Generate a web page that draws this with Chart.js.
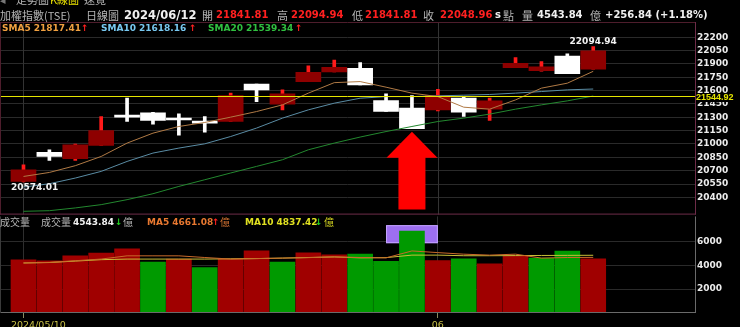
<!DOCTYPE html>
<html>
<head>
<meta charset="utf-8">
<script src="https://cdn.jsdelivr.net/npm/chart.js@4.4.1/dist/chart.umd.min.js"></script>
<style>
  html, body { margin: 0; padding: 0; background: #000; }
  body { width: 740px; height: 327px; position: relative; overflow: hidden; }
  #price { position: absolute; left: 0; top: 0; }
  #volume { position: absolute; left: 0; top: 209px; }
  .row { position: absolute; left: 0; width: 740px; height: 14px; white-space: nowrap; }
  .row span { position: absolute; top: 0; line-height: 14px; }
  .zh { font-family: "Noto Sans CJK TC", sans-serif; color: #b4b4b4; font-size: 11px; }
  .n { font-family: "DejaVu Sans", sans-serif; font-weight: bold; font-size: 10px; }
  .s { font-family: "DejaVu Sans", sans-serif; font-weight: bold; font-size: 9px; }
  .w { color: #f0f0f0; }
  .r { color: #ff2020; }
  .g { color: #20d020; }
</style>
</head>
<body>
<canvas id="price" width="740" height="222"></canvas>
<canvas id="volume" width="740" height="118"></canvas>

<div class="row" style="top:-8px">
  <span class="zh" style="left:0;color:#777">◂</span>
  <span class="zh" style="left:16px">走勢圖</span>
  <span class="zh" style="left:50px;color:#e8e000">K線圖</span>
  <span class="zh" style="left:84px">速覽</span>
</div>

<div class="row" style="top:8px">
  <span class="zh" style="left:0">加權指數(TSE)</span>
  <span class="zh" style="left:86px">日線圖</span>
  <span class="n w" style="left:124px;font-size:11.5px">2024/06/12</span>
  <span class="zh" style="left:202px">開</span><span class="n r" style="left:216px">21841.81</span>
  <span class="zh" style="left:277px">高</span><span class="n r" style="left:291px">22094.94</span>
  <span class="zh" style="left:352px">低</span><span class="n r" style="left:365px">21841.81</span>
  <span class="zh" style="left:423px">收</span><span class="n r" style="left:440px">22048.96</span>
  <span class="n w" style="left:495px">s</span><span class="zh" style="left:503px">點</span>
  <span class="zh" style="left:522px">量</span><span class="n w" style="left:537px">4543.84</span><span class="zh" style="left:590px">億</span>
  <span class="n w" style="left:605px">+256.84 (+1.18%)</span>
</div>

<div class="row" style="top:21px">
  <span class="s" style="left:2px;color:#f0a040">SMA5 21817.41</span><span class="s r" style="left:81px">↑</span>
  <span class="s" style="left:101px;color:#78c8f0">SMA10 21618.16</span><span class="s r" style="left:189px">↑</span>
  <span class="s" style="left:208px;color:#30c040">SMA20 21539.34</span><span class="s r" style="left:295px">↑</span>
</div>

<div class="row" style="top:215px">
  <span class="zh" style="left:0;font-size:10px">成交量</span>
  <span class="zh" style="left:41px;font-size:10px">成交量</span>
  <span class="s w" style="left:73px">4543.84</span><span class="s g" style="left:115px">↓</span><span class="zh" style="left:123px;font-size:10px">億</span>
  <span class="s" style="left:147px;color:#e87830">MA5 4661.08</span><span class="s r" style="left:212px">↑</span><span class="zh" style="left:220px;font-size:10px;color:#d07030">億</span>
  <span class="s" style="left:245px;color:#e0e020">MA10 4837.42</span><span class="s g" style="left:315px">↓</span><span class="zh" style="left:324px;font-size:10px;color:#d0d020">億</span>
</div>

<script>
// trading days shown
const dates = ['2024/05/10', '05/13', '05/14', '05/15', '05/16', '05/17', '05/20', '05/21',
    '05/22', '05/23', '05/24', '05/27', '05/28', '05/29', '05/30', '05/31',
    '06/03', '06/04', '06/05', '06/06', '06/07', '06/11', '06/12'];

// daily candles
const openPrices = [20580, 20905, 20834, 20983, 21325, 21350, 21283, 21249, 21253, 21673, 21448, 21702,
    21811, 21852, 21489, 21403, 21384, 21515, 21392, 21859, 21825, 21990, 21841.81];
const highPrices = [20767, 20935, 20999, 21309, 21515, 21355, 21339, 21309, 21572, 21673, 21609, 21878,
    21945, 21915, 21564, 21545, 21616, 21533, 21515, 21971, 21926, 22013, 22094.94];
const lowPrices = [20574.01, 20815, 20815, 20983, 21253, 21224, 21100, 21134, 21253, 21477, 21384, 21702,
    21811, 21665, 21365, 21171, 21373, 21309, 21264, 21859, 21820, 21796, 21841.81];
const closePrices = [20710, 20860, 20991, 21152, 21302, 21264, 21270, 21235, 21545, 21609, 21564, 21807,
    21863, 21665, 21365, 21171, 21545, 21358, 21485, 21908, 21867, 21792.12, 22048.96];

// moving averages
const sma5 = [20635, 20680, 20756, 20860, 21010, 21122, 21197, 21242, 21302, 21365, 21440, 21572,
    21690, 21702, 21639, 21572, 21533, 21414, 21392, 21496, 21628, 21684, 21817.41];
const sma10 = [20515, 20553, 20617, 20692, 20804, 20898, 20954, 21002, 21084, 21179, 21291, 21384,
    21459, 21515, 21533, 21533, 21541, 21549, 21557, 21572, 21590, 21609, 21618.16];
const sma20 = [20243, 20250, 20281, 20318, 20374, 20441, 20523, 20598, 20674, 20748, 20823, 20935,
    21010, 21078, 21140, 21197, 21253, 21291, 21336, 21392, 21440, 21485, 21539.34];

// volume (億)
const volumes = [4460, 4378, 4791, 5014, 5369, 4270, 4518, 3800, 4518, 5204, 4270, 5039,
    4873, 4931, 4320, 6856, 4403, 4543, 4130, 4791, 4601, 5179, 4543.84];
const volMa5 = [4200, 4240, 4380, 4520, 4790, 4790, 4790, 4650, 4520, 4560, 4600, 4640,
    4700, 4650, 4620, 5200, 5060, 4930, 4850, 4930, 4600, 4650, 4661.08];
const volMa10 = [4190, 4230, 4350, 4470, 4518, 4518, 4518, 4518, 4540, 4560, 4600, 4650,
    4700, 4620, 4640, 4850, 4850, 4800, 4800, 4810, 4820, 4830, 4837.42];

// axis ticks
const priceTicks = [22200, 22050, 21900, 21750, 21600, 21450, 21300, 21150, 21000, 20850, 20700, 20550, 20400];
const volumeTicks = [2000, 4000, 6000];
const xTickIndexes = [0, 16];
const xTickLabels = ['2024/05/10', '06'];

const refPrice = 21544.92;   // yellow horizontal line
const markIndex = 15;        // day pointed at by the arrow / box

const RED_BODY = '#8e0000';
const RED_WICK = '#ff1a1a';
const VOL_RED = '#a00000';
const VOL_GREEN = '#009a00';

const idx = dates.map((d, i) => i);
const isUp = idx.map(i => closePrices[i] >= openPrices[i]);
const volUp = idx.map(i => i === 0 || closePrices[i] >= closePrices[i - 1]);

const xRange = { type: 'linear', min: -0.907, max: 25.93, offset: false };
const tickFont = { family: 'DejaVu Sans', size: 9, weight: 'bold' };

function line(data, color) {
    return {
        type: 'line',
        data: idx.map(i => ({ x: i, y: data[i] })),
        borderColor: color,
        borderWidth: 1,
        pointRadius: 0,
        tension: 0,
        order: 0,
    };
}

const priceDecor = {
    id: 'priceDecor',
    beforeDatasetsDraw(chart) {
        const { ctx, chartArea: a, scales: { x } } = chart;
        ctx.save();
        ctx.strokeStyle = '#333333';
        ctx.lineWidth = 1;
        xTickIndexes.forEach(i => {
            const px = Math.round(x.getPixelForValue(i)) + 0.5;
            ctx.beginPath();
            ctx.moveTo(px, a.top);
            ctx.lineTo(px, a.bottom);
            ctx.stroke();
        });
        ctx.restore();
    },
    afterDatasetsDraw(chart) {
        const { ctx, chartArea: a, scales: { x, y } } = chart;
        ctx.save();

        // reference line + label on the axis
        const ry = Math.round(y.getPixelForValue(refPrice)) + 0.5;
        ctx.strokeStyle = '#e6e600';
        ctx.lineWidth = 1;
        ctx.beginPath();
        ctx.moveTo(a.left, ry);
        ctx.lineTo(a.right, ry);
        ctx.stroke();
        ctx.fillStyle = '#000';
        ctx.fillRect(a.right + 1, ry - 3.5, 44, 9);
        ctx.font = 'bold 9px "Liberation Sans"';
        ctx.fillStyle = '#e6e600';
        ctx.textAlign = 'left';
        ctx.textBaseline = 'middle';
        ctx.fillText(refPrice.toFixed(2), a.right + 1, ry + 1);

        // highest / lowest labels
        ctx.font = 'bold 9px "DejaVu Sans"';
        const hi = highPrices.indexOf(Math.max(...highPrices));
        const lo = lowPrices.indexOf(Math.min(...lowPrices));
        ctx.fillStyle = '#f2f2f2';
        ctx.textAlign = 'center';
        ctx.textBaseline = 'bottom';
        ctx.fillText(highPrices[hi].toFixed(2), x.getPixelForValue(hi), y.getPixelForValue(highPrices[hi]) - 0.5);
        ctx.textAlign = 'left';
        ctx.textBaseline = 'top';
        ctx.fillText(lowPrices[lo].toFixed(2), x.getPixelForValue(lo) - 12.5, y.getPixelForValue(lowPrices[lo]) + 1);

        // red arrow under the marked day
        const ax = x.getPixelForValue(markIndex);
        const tip = y.getPixelForValue(lowPrices[markIndex]) + 3;
        const neck = tip + 26;
        const bottom = a.bottom - 5;
        ctx.fillStyle = '#ff0000';
        ctx.beginPath();
        ctx.moveTo(ax, tip);
        ctx.lineTo(ax + 25.5, neck);
        ctx.lineTo(ax + 13.5, neck);
        ctx.lineTo(ax + 13.5, bottom);
        ctx.lineTo(ax - 13.5, bottom);
        ctx.lineTo(ax - 13.5, neck);
        ctx.lineTo(ax - 25.5, neck);
        ctx.closePath();
        ctx.fill();

        // frame
        ctx.lineWidth = 1;
        ctx.strokeStyle = '#4e1d2c';
        ctx.beginPath();
        ctx.moveTo(0, a.top + 0.5);
        ctx.lineTo(a.right, a.top + 0.5);
        ctx.moveTo(0.5, a.top);
        ctx.lineTo(0.5, a.bottom);
        ctx.stroke();
        ctx.strokeStyle = '#6e2c48';
        ctx.beginPath();
        ctx.moveTo(a.right + 0.5, a.top);
        ctx.lineTo(a.right + 0.5, a.bottom);
        ctx.moveTo(0, a.bottom - 0.5);
        ctx.lineTo(a.right + 1, a.bottom - 0.5);
        ctx.stroke();
        ctx.restore();
    },
};

const volumeDecor = {
    id: 'volumeDecor',
    beforeDatasetsDraw(chart) {
        const { ctx, scales: { x, y } } = chart;
        const cx = x.getPixelForValue(markIndex);
        const half = (x.getPixelForValue(markIndex + 1) - x.getPixelForValue(markIndex - 1)) / 2;
        const top = y.getPixelForValue(volumes[markIndex]) - 6;
        ctx.save();
        ctx.fillStyle = '#9d6ff0';
        ctx.strokeStyle = '#c4a4ff';
        ctx.lineWidth = 1;
        ctx.fillRect(cx - half, top, half * 2, 18);
        ctx.strokeRect(cx - half + 0.5, top + 0.5, half * 2 - 1, 17);
        ctx.restore();
    },
    afterDraw(chart) {
        const { ctx, chartArea: a, scales: { x } } = chart;
        ctx.save();
        ctx.font = '9.5px "DejaVu Sans"';
        ctx.fillStyle = '#c8c048';
        ctx.textBaseline = 'top';
        ctx.textAlign = 'left';
        xTickIndexes.forEach((v, k) => {
            const text = xTickLabels[k];
            const px = x.getPixelForValue(v);
            const w = ctx.measureText(text).width;
            let left = px - w / 2;
            if (left < a.left) left = px - 12.5;
            ctx.fillText(text, left, a.bottom + 8);
        });
        ctx.strokeStyle = '#6a6a6a';
        ctx.lineWidth = 1;
        ctx.beginPath();
        ctx.moveTo(a.right + 0.5, a.top);
        ctx.lineTo(a.right + 0.5, a.bottom);
        ctx.moveTo(0, a.bottom - 0.5);
        ctx.lineTo(a.right + 1, a.bottom - 0.5);
        ctx.stroke();
        ctx.strokeStyle = '#3a3a3a';
        ctx.beginPath();
        ctx.moveTo(0.5, a.top);
        ctx.lineTo(0.5, a.bottom);
        ctx.stroke();
        ctx.restore();
    },
};

const common = {
    responsive: false,
    animation: false,
    events: [],
    plugins: { legend: { display: false }, tooltip: { enabled: false } },
};

new Chart(document.getElementById('price'), {
    data: {
        datasets: [
            line(sma5, '#b07a45'),
            line(sma10, '#5a8ca4'),
            line(sma20, '#23882f'),
            {
                type: 'bar',
                data: idx.map(i => ({ x: i, y: [openPrices[i], closePrices[i]] })),
                backgroundColor: idx.map(i => isUp[i] ? RED_BODY : '#ffffff'),
                barThickness: 25,
                minBarLength: 2,
                grouped: false,
                order: 1,
            },
            {
                type: 'bar',
                data: idx.map(i => ({ x: i, y: [lowPrices[i], highPrices[i]] })),
                backgroundColor: idx.map(i => isUp[i] ? RED_WICK : '#ffffff'),
                barThickness: 3,
                grouped: false,
                order: 2,
            },
        ],
    },
    options: {
        ...common,
        layout: { padding: { top: 22, bottom: 7, left: 0, right: 0 } },
        scales: {
            x: { ...xRange, display: false, grid: { offset: false } },
            y: {
                position: 'right',
                min: 20206,
                max: 22372,
                afterBuildTicks: (scale) => { scale.ticks = priceTicks.map(v => ({ value: v })); },
                afterFit: (scale) => { scale.width = 45; },
                grid: { color: '#2a2a2a', drawTicks: false },
                border: { display: false },
                ticks: { color: '#ececec', font: tickFont, padding: 2, callback: v => String(v) },
            },
        },
    },
    plugins: [priceDecor],
});

new Chart(document.getElementById('volume'), {
    data: {
        datasets: [
            line(volMa5, '#c86a2a'),
            line(volMa10, '#c8c038'),
            {
                type: 'bar',
                data: idx.map(i => ({ x: i, y: volumes[i] })),
                backgroundColor: idx.map(i => volUp[i] ? VOL_RED : VOL_GREEN),
                barThickness: 25,
                grouped: false,
                order: 1,
            },
        ],
    },
    options: {
        ...common,
        layout: { padding: { top: 6, bottom: 0, left: 0, right: 0 } },
        scales: {
            x: {
                ...xRange,
                afterBuildTicks: (scale) => { scale.ticks = xTickIndexes.map(v => ({ value: v })); },
                afterFit: (scale) => { scale.height = 14; },
                grid: { color: '#2e2e2e', tickColor: '#8a8a60', tickLength: 5, offset: false },
                border: { display: false },
                ticks: { display: false },
            },
            y: {
                position: 'right',
                min: 0,
                max: 8095,
                afterBuildTicks: (scale) => { scale.ticks = volumeTicks.map(v => ({ value: v })); },
                afterFit: (scale) => { scale.width = 45; },
                grid: { color: '#2a2a2a', drawTicks: false },
                border: { display: false },
                ticks: { color: '#ececec', font: tickFont, padding: 2, callback: v => String(v) },
            },
        },
    },
    plugins: [volumeDecor],
});
</script>
</body>
</html>
